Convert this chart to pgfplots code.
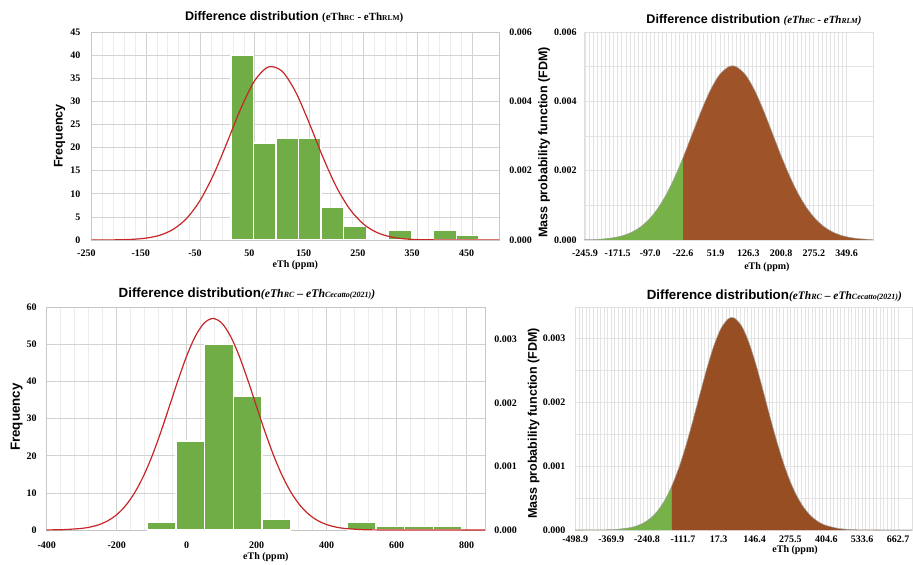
\documentclass[border=0pt]{standalone}
\usepackage{fontspec}
\setmainfont{Liberation Serif}
\newfontfamily\arial{Liberation Sans}
\usepackage{pgfplots}
\pgfplotsset{compat=1.18}

\definecolor{bargreen}{RGB}{112,173,71}
\definecolor{curvered}{RGB}{200,38,38}
\definecolor{areagreen}{RGB}{118,178,72}
\definecolor{areabrown}{RGB}{158,83,40}
\definecolor{areabrownb}{RGB}{150,78,34}

\newcommand{\tk}{\bfseries\fontsize{7.5}{8}\selectfont}
\newcommand{\lab}{\arial\bfseries\fontsize{9.4}{11}\selectfont}
\newcommand{\labb}{\arial\bfseries\fontsize{10}{12}\selectfont}
\newcommand{\sub}[1]{{\fontsize{5.6}{6}\selectfont #1}}
\newcommand{\subb}[1]{{\fontsize{6}{7}\selectfont #1}}

\pgfplotsset{
  base/.style={scale only axis, anchor=south west,
    scaled y ticks=false, scaled x ticks=false,
    major tick length=0pt, minor tick length=0pt, tick style={draw=none},
    ticklabel style={font=\tk}, axis line style={gray!45},
    major grid style={gray!35, line width=0.5pt},
    minor grid style={gray!15, line width=0.4pt},
    xlabel style={font=\tk}, ylabel style={font=\lab}, title style={font=\lab, yshift=-6pt}},
}

\begin{document}
\begin{tikzpicture}
\path[use as bounding box] (0,0) rectangle (684.75pt,423pt);

% ---------------- Top left ----------------
\begin{axis}[base, at={(68.78pt,243pt)}, width=305.5pt, height=156pt,
  xmin=-250, xmax=500, ymin=0, ymax=45,
  xtick={-250,-150,-50,50,150,250,350,450},
  xticklabels={-250,-150,-50,50,150,250,350,450},
  minor x tick num=4, xmajorgrids, xminorgrids, ymajorgrids,
  ytick={0,5,10,15,20,25,30,35,40,45},
  yticklabels={0,5,10,15,20,25,30,35,40,45},
  xticklabel style={xshift=-4pt, yshift=-4pt}, yticklabel style={xshift=-5pt},
  ylabel={Frequency}, ylabel style={at={(axis description cs:-0.0786,0.5)}, anchor=center},
  xlabel={eTh (ppm)}, xlabel style={at={(axis description cs:0.5,-0.12)}, anchor=center},
  title={Difference distribution {\rmfamily\bfseries\fontsize{8.2}{9}\selectfont (eTh\sub{RC} - eTh\sub{RLM})}},
  title style={at={(axis description cs:0.497,1.072)}, anchor=center},
]
\addplot[ybar, bar width=41.5, bar shift=0pt, fill=bargreen, draw=white, line width=1pt]
  coordinates {(27.15,40) (68.65,21) (110.15,22) (151.65,22) (193.15,7) (234.65,3) (317.65,2) (400.65,2) (442.15,1)};
\end{axis}
\begin{axis}[base, at={(68.78pt,243pt)}, width=305.5pt, height=156pt,
  xmin=-250, xmax=500, ymin=0, ymax=0.006,
  axis x line=none, axis y line*=right,
  ytick={0,0.002,0.004,0.006}, yticklabels={0.000,0.002,0.004,0.006},
  yticklabel style={xshift=4.3pt}]
\addplot[curvered, line width=0.9pt, smooth] coordinates {
(-250,0.0000005) (-225,0.0000018) (-200,0.0000061) (-175,0.000019) (-150,0.000054)
(-125,0.000135) (-100,0.000307) (-75,0.000627) (-50,0.001153) (-25,0.001908)
(0,0.002842) (25,0.003809) (50,0.004596) (75,0.00499) (100,0.004875)
(125,0.004287) (150,0.003392) (175,0.002416) (200,0.001548) (225,0.000893)
(250,0.000464) (275,0.000217) (300,0.000091) (325,0.000034) (350,0.000012)
(400,0.000001) (450,0) (500,0)};
\end{axis}

% ---------------- Top right ----------------
\begin{axis}[base, at={(438pt,243pt)}, width=216.75pt, height=156pt,
  xmin=-248, xmax=410, ymin=0, ymax=0.006,
  xtick={-245.9,-171.45,-97,-22.55,51.9,126.35,200.8,275.25,349.7},
  xticklabels={-245.9,-171.5,-97.0,-22.6,51.9,126.3,200.8,275.2,349.6},
  minor x tick num=7, xmajorgrids, xminorgrids, ymajorgrids, yminorgrids, minor y tick num=1,
  ytick={0,0.002,0.004,0.006}, yticklabels={0.000,0.002,0.004,0.006},
  major grid style={gray!22}, minor grid style={gray!22}, axis line style={gray!25},
  xticklabel style={yshift=-4pt}, yticklabel style={xshift=-2pt},
  ylabel={Mass probability function (FDM)}, ylabel style={at={(axis description cs:-0.1384,0.47)}, anchor=center},
  xlabel={eTh (ppm)}, xlabel style={at={(axis description cs:0.633,-0.13)}, anchor=center},
  title={Difference distribution {\rmfamily\bfseries\itshape\fontsize{8.2}{9}\selectfont (eTh\sub{RC} - eTh\sub{RLM})}},
  title style={at={(axis description cs:0.588,1.058)}, anchor=center},
]
\addplot[fill=areagreen, draw=none, smooth] coordinates {
(-248,0.0000059) (-220,0.0000172) (-200,0.0000349) (-180,0.0000677) (-160,0.0001251)
(-140,0.0002206) (-120,0.000371) (-100,0.000595) (-80,0.000911) (-60,0.001329)
(-40,0.00185) (-22.6,0.002373)} \closedcycle;
\addplot[fill=areabrown, draw=none, smooth] coordinates {
(-22.6,0.002373) (0,0.003111) (20,0.003758) (40,0.004331) (60,0.00476) (80,0.00499)
(90,0.00502) (100,0.00499) (120,0.00476) (140,0.004331) (160,0.003758) (180,0.003111)
(200,0.002456) (220,0.00185) (240,0.001329) (260,0.000911) (280,0.000595) (300,0.000371)
(320,0.0002206) (340,0.0001251) (360,0.0000677) (380,0.0000349) (410,0.0000118)} \closedcycle;
\addplot[gray!75, line width=0.4pt, smooth] coordinates {
(-248,0.0000059) (-220,0.0000172) (-200,0.0000349) (-180,0.0000677) (-160,0.0001251)
(-140,0.0002206) (-120,0.000371) (-100,0.000595) (-80,0.000911) (-60,0.001329)
(-40,0.00185) (-22.6,0.002373) (0,0.003111) (20,0.003758) (40,0.004331) (60,0.00476) (80,0.00499)
(90,0.00502) (100,0.00499) (120,0.00476) (140,0.004331) (160,0.003758) (180,0.003111)
(200,0.002456) (220,0.00185) (240,0.001329) (260,0.000911) (280,0.000595) (300,0.000371)
(320,0.0002206) (340,0.0001251) (360,0.0000677) (380,0.0000349) (410,0.0000118)};
\end{axis}

% ---------------- Bottom left ----------------
\begin{axis}[base, at={(35pt,25.5pt)}, width=328.7pt, height=167pt,
  xmin=-400, xmax=852, ymin=0, ymax=60,
  xtick={-400,-200,0,200,400,600,800}, xticklabels={-400,-200,0,200,400,600,800},
  minor x tick num=4, xmajorgrids, xminorgrids, ymajorgrids,
  ytick={0,10,20,30,40,50,60}, yticklabels={0,10,20,30,40,50,60},
  xticklabel style={yshift=-5pt}, yticklabel style={xshift=-4pt},
  ylabel={Frequency}, ylabel style={at={(axis description cs:-0.0684,0.507)}, anchor=center, font=\labb},
  xlabel={eTh (ppm)}, xlabel style={at={(axis description cs:0.5,-0.121)}, anchor=center},
  title={Difference distribution{\rmfamily\bfseries\itshape\fontsize{8.8}{9}\selectfont (eTh\subb{RC} -- eTh\subb{Cecatto(2021)})}},
  title style={at={(axis description cs:0.457,1.06)}, anchor=center, font=\labb},
]
\addplot[ybar, bar width=81.6, bar shift=0pt, fill=bargreen, draw=white, line width=1pt]
  coordinates {(-70.9,2) (10.7,24) (92.3,50) (173.9,36) (255.5,3) (500.3,2) (581.9,1) (663.5,1) (745.1,1)};
\end{axis}
\begin{axis}[base, at={(35pt,25.5pt)}, width=328.7pt, height=167pt,
  xmin=-400, xmax=852, ymin=0, ymax=0.003503,
  axis x line=none, axis y line*=right,
  ytick={0,0.001,0.002,0.003}, yticklabels={0.000,0.001,0.002,0.003},
  yticklabel style={xshift=3.5pt}]
\addplot[curvered, line width=0.9pt, smooth] coordinates {
(-400,0.0000013) (-350,0.0000063) (-300,0.0000252) (-275,0.0000473) (-250,0.000085)
(-225,0.0001462) (-200,0.0002408) (-175,0.00038) (-150,0.000574) (-125,0.00083)
(-100,0.001149) (-75,0.001524) (-50,0.001935) (-25,0.002352) (0,0.002738) (25,0.003051)
(50,0.003256) (75,0.003328) (100,0.003256) (125,0.003051) (150,0.002738) (175,0.002352)
(200,0.001935) (225,0.001524) (250,0.001149) (275,0.00083) (300,0.000574) (325,0.00038)
(350,0.0002408) (375,0.0001462) (400,0.000085) (425,0.0000473) (450,0.0000252)
(500,0.0000063) (550,0.0000013) (650,0) (852,0)};
\end{axis}

% ---------------- Bottom right ----------------
\begin{axis}[base, at={(431.25pt,25.5pt)}, width=252.75pt, height=167pt,
  xmin=-500, xmax=713, ymin=0, ymax=0.00349,
  xtick={-498.9,-369.83,-240.76,-111.69,17.38,146.45,275.52,404.59,533.66,662.73},
  xticklabels={-498.9,-369.9,-240.8,-111.7,17.3,146.4,275.5,404.6,533.6,662.7},
  minor x tick num=9, xmajorgrids, xminorgrids, ymajorgrids, yminorgrids, minor y tick num=1,
  ytick={0,0.001,0.002,0.003}, yticklabels={0.000,0.001,0.002,0.003},
  major grid style={gray!22}, minor grid style={gray!22}, axis line style={gray!25},
  xticklabel style={yshift=-1.2pt}, yticklabel style={xshift=-3.7pt},
  ylabel={Mass probability function (FDM)}, ylabel style={at={(axis description cs:-0.123,0.479)}, anchor=center},
  xlabel={eTh (ppm)}, xlabel style={at={(axis description cs:0.653,-0.09)}, anchor=center},
  title={Difference distribution{\rmfamily\bfseries\itshape\fontsize{8.6}{9}\selectfont (eTh\subb{RC} -- eTh\subb{Cecatto(2021)})}},
  title style={at={(axis description cs:0.199,1.051)}, anchor=west, font=\labb},
]
\addplot[fill=areagreen, draw=none, smooth] coordinates {
(-500,0.0000001) (-450,0.0000005) (-400,0.0000023) (-350,0.0000102) (-300,0.0000379)
(-275,0.0000685) (-250,0.0001188) (-225,0.0001975) (-200,0.0003148) (-175,0.000481)
(-151,0.000695)} \closedcycle;
\addplot[fill=areabrownb, draw=none, smooth] coordinates {
(-151,0.000695) (-125,0.00099) (-100,0.001334) (-75,0.001724) (-50,0.002136) (-25,0.002537)
(0,0.002889) (25,0.003156) (50,0.003305) (65,0.00333) (75,0.003319) (100,0.003196)
(125,0.002951) (150,0.002612) (175,0.002218) (200,0.001805) (225,0.001409) (250,0.001055)
(275,0.000757) (300,0.000521) (325,0.000344) (350,0.0002175) (375,0.000132) (400,0.0000768)
(450,0.0000229) (500,0.0000058) (550,0.0000012) (600,0) (713,0)} \closedcycle;
\addplot[gray!75, line width=0.4pt, smooth] coordinates {
(-500,0.0000001) (-450,0.0000005) (-400,0.0000023) (-350,0.0000102) (-300,0.0000379)
(-275,0.0000685) (-250,0.0001188) (-225,0.0001975) (-200,0.0003148) (-175,0.000481)
(-151,0.000695) (-125,0.00099) (-100,0.001334) (-75,0.001724) (-50,0.002136) (-25,0.002537)
(0,0.002889) (25,0.003156) (50,0.003305) (65,0.00333) (75,0.003319) (100,0.003196)
(125,0.002951) (150,0.002612) (175,0.002218) (200,0.001805) (225,0.001409) (250,0.001055)
(275,0.000757) (300,0.000521) (325,0.000344) (350,0.0002175) (375,0.000132) (400,0.0000768)
(450,0.0000229) (500,0.0000058) (550,0.0000012) (600,0) (713,0)};
\end{axis}
\end{tikzpicture}
\end{document}
